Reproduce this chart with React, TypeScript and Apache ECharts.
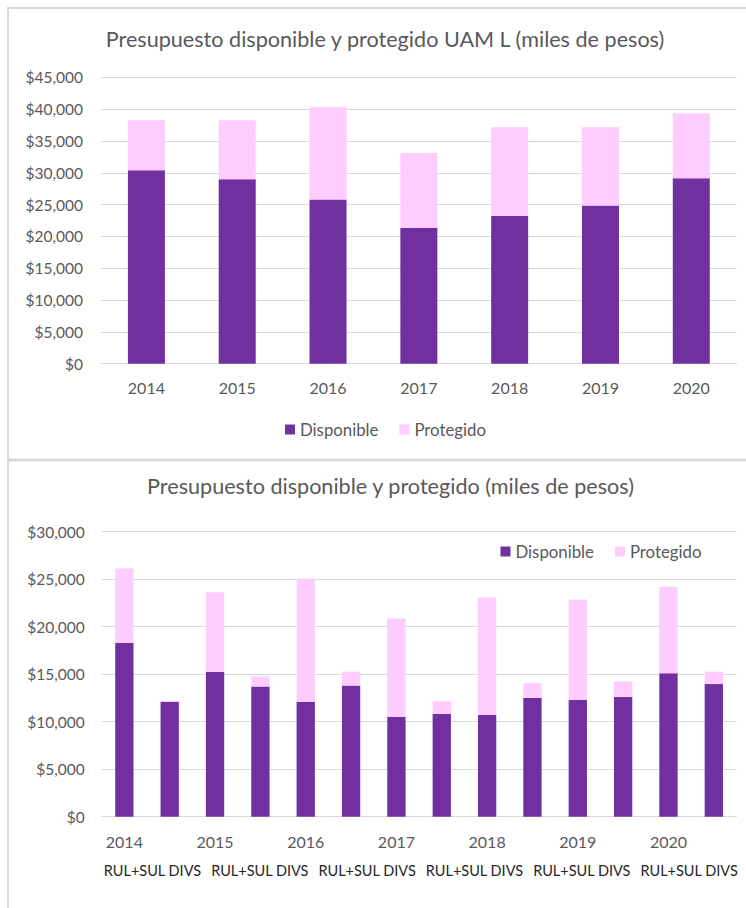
import React, { useEffect, useRef } from "react";
import * as echarts from "echarts";

// ---- Data ----
const years = ["2014", "2015", "2016", "2017", "2018", "2019", "2020"];
const uamDisponible = [30400, 29000, 25800, 21350, 23250, 24850, 29150];
const uamProtegido = [7850, 9250, 14550, 11750, 13900, 12300, 10200];

const divCategories = [
  "2014", "2014 RUL+SUL DIVS",
  "2015", "2015 RUL+SUL DIVS",
  "2016", "2016 RUL+SUL DIVS",
  "2017", "2017 RUL+SUL DIVS",
  "2018", "2018 RUL+SUL DIVS",
  "2019", "2019 RUL+SUL DIVS",
  "2020", "2020 RUL+SUL DIVS",
];
const divDisponible = [18300, 12080, 15250, 13700, 12080, 13800, 10500, 10800, 10700, 12500, 12300, 12600, 15100, 13950];
const divProtegido = [7800, 70, 8350, 1050, 12950, 1450, 10350, 1350, 12350, 1550, 10550, 1650, 9100, 1300];
const rulLabels = ["RUL+SUL DIVS", "RUL+SUL DIVS", "RUL+SUL DIVS", "RUL+SUL DIVS", "RUL+SUL DIVS", "RUL+SUL DIVS"];

const topTicks = { min: 0, max: 45000, interval: 5000 };
const botTicks = { min: 0, max: 30000, interval: 5000 };

const PURPLE = "#7030A0";
const PINK = "#FFCCFF";
const GRID = "#d9d9d9";
const TXT = "#595959";
const FONT = "Lato, 'Open Sans', sans-serif";

const money = (v: number) => "$" + v.toLocaleString("en-US");

export default function App() {
  const ref = useRef<HTMLDivElement>(null);
  useEffect(() => {
    if (!ref.current) return;
    const chart = echarts.init(ref.current, null, { renderer: "svg" });
    const yCommon = (t: any, margin: number) => ({
      type: "value",
      min: t.min,
      max: t.max,
      interval: t.interval,
      axisLine: { show: false },
      axisTick: { show: false },
      splitLine: { lineStyle: { color: GRID, width: 1 } },
      axisLabel: { color: TXT, fontSize: 15.5, fontFamily: FONT, margin, formatter: money },
    });
    chart.setOption({
      animation: false,
      backgroundColor: "#fff",
      textStyle: { fontFamily: FONT },
      graphic: [
        { type: "rect", shape: { x: 7, y: 7, width: 2, height: 901 }, style: { fill: GRID }, silent: true },
        { type: "rect", shape: { x: 7, y: 7, width: 739, height: 2 }, style: { fill: GRID }, silent: true },
        { type: "rect", shape: { x: 7, y: 458.5, width: 739, height: 3 }, style: { fill: GRID }, silent: true },
      ],
      title: [
        {
          text: "Presupuesto disponible y protegido UAM L (miles de pesos)",
          left: 385, top: 28, textAlign: "center", padding: 0,
          textStyle: { color: TXT, fontSize: 21.6, fontWeight: "normal", fontFamily: FONT },
        },
        {
          text: "Presupuesto disponible y protegido (miles de pesos)",
          left: 390.5, top: 475, textAlign: "center", padding: 0,
          textStyle: { color: TXT, fontSize: 21.6, fontWeight: "normal", fontFamily: FONT },
        },
      ],
      legend: [
        {
          data: ["Disponible", "Protegido"],
          left: 285, top: 421, padding: 0, itemWidth: 10, itemHeight: 10, itemGap: 21,
          icon: "rect",
          textStyle: { color: TXT, fontSize: 16.8, fontFamily: FONT },
        },
        {
          data: ["Disponible", "Protegido"],
          left: 500.5, top: 543, padding: 0, itemWidth: 10, itemHeight: 10, itemGap: 21,
          icon: "rect",
          textStyle: { color: TXT, fontSize: 16.8, fontFamily: FONT },
        },
      ],
      grid: [
        { left: 101, right: 9.3, top: 77.3, bottom: 908 - 363.7, containLabel: false },
        { left: 101.7, right: 9.5, top: 531.5, bottom: 908 - 816.7, containLabel: false },
        { left: 98.8, width: 644, top: 531.5, bottom: 908 - 816.7, containLabel: false },
      ],
      xAxis: [
        {
          type: "category", gridIndex: 0, data: years,
          axisLine: { lineStyle: { color: GRID, width: 1 } },
          axisTick: { show: false },
          axisLabel: { color: TXT, fontSize: 16, fontFamily: FONT, margin: 16, interval: 0 },
        },
        {
          type: "category", gridIndex: 1, data: divCategories,
          axisLine: { lineStyle: { color: GRID, width: 1 } },
          axisTick: { show: false },
          axisLabel: {
            color: TXT, fontSize: 16, fontFamily: FONT, margin: 17, interval: 0,
            formatter: (v: string, i: number) => (i % 2 === 0 ? v : ""),
          },
        },
        {
          type: "category", gridIndex: 2, data: rulLabels,
          axisLine: { show: false },
          axisTick: { show: false },
          splitLine: { show: false },
          axisLabel: { color: "#262626", fontSize: 14.5, fontFamily: FONT, margin: 46, interval: 0 },
        },
      ],
      yAxis: [
        { ...yCommon(topTicks, 18), gridIndex: 0 },
        { ...yCommon(botTicks, 17), gridIndex: 1 },
        { type: "value", gridIndex: 2, show: false, splitLine: { show: false } },
      ],
      series: [
        { name: "Disponible", type: "bar", stack: "uam", xAxisIndex: 0, yAxisIndex: 0, barWidth: 37, data: uamDisponible, itemStyle: { color: PURPLE } },
        { name: "Protegido", type: "bar", stack: "uam", xAxisIndex: 0, yAxisIndex: 0, barWidth: 37, data: uamProtegido, itemStyle: { color: PINK } },
        { name: "Disponible", type: "bar", stack: "div", xAxisIndex: 1, yAxisIndex: 1, barWidth: 18.3, data: divDisponible, itemStyle: { color: PURPLE } },
        { name: "Protegido", type: "bar", stack: "div", xAxisIndex: 1, yAxisIndex: 1, barWidth: 18.3, data: divProtegido, itemStyle: { color: PINK } },
      ],
    });
    return () => chart.dispose();
  }, []);
  return (
    <div
      ref={ref}
      style={{ position: "fixed", left: 0, top: 0, width: 746, height: 908, background: "#fff" }}
    />
  );
}
